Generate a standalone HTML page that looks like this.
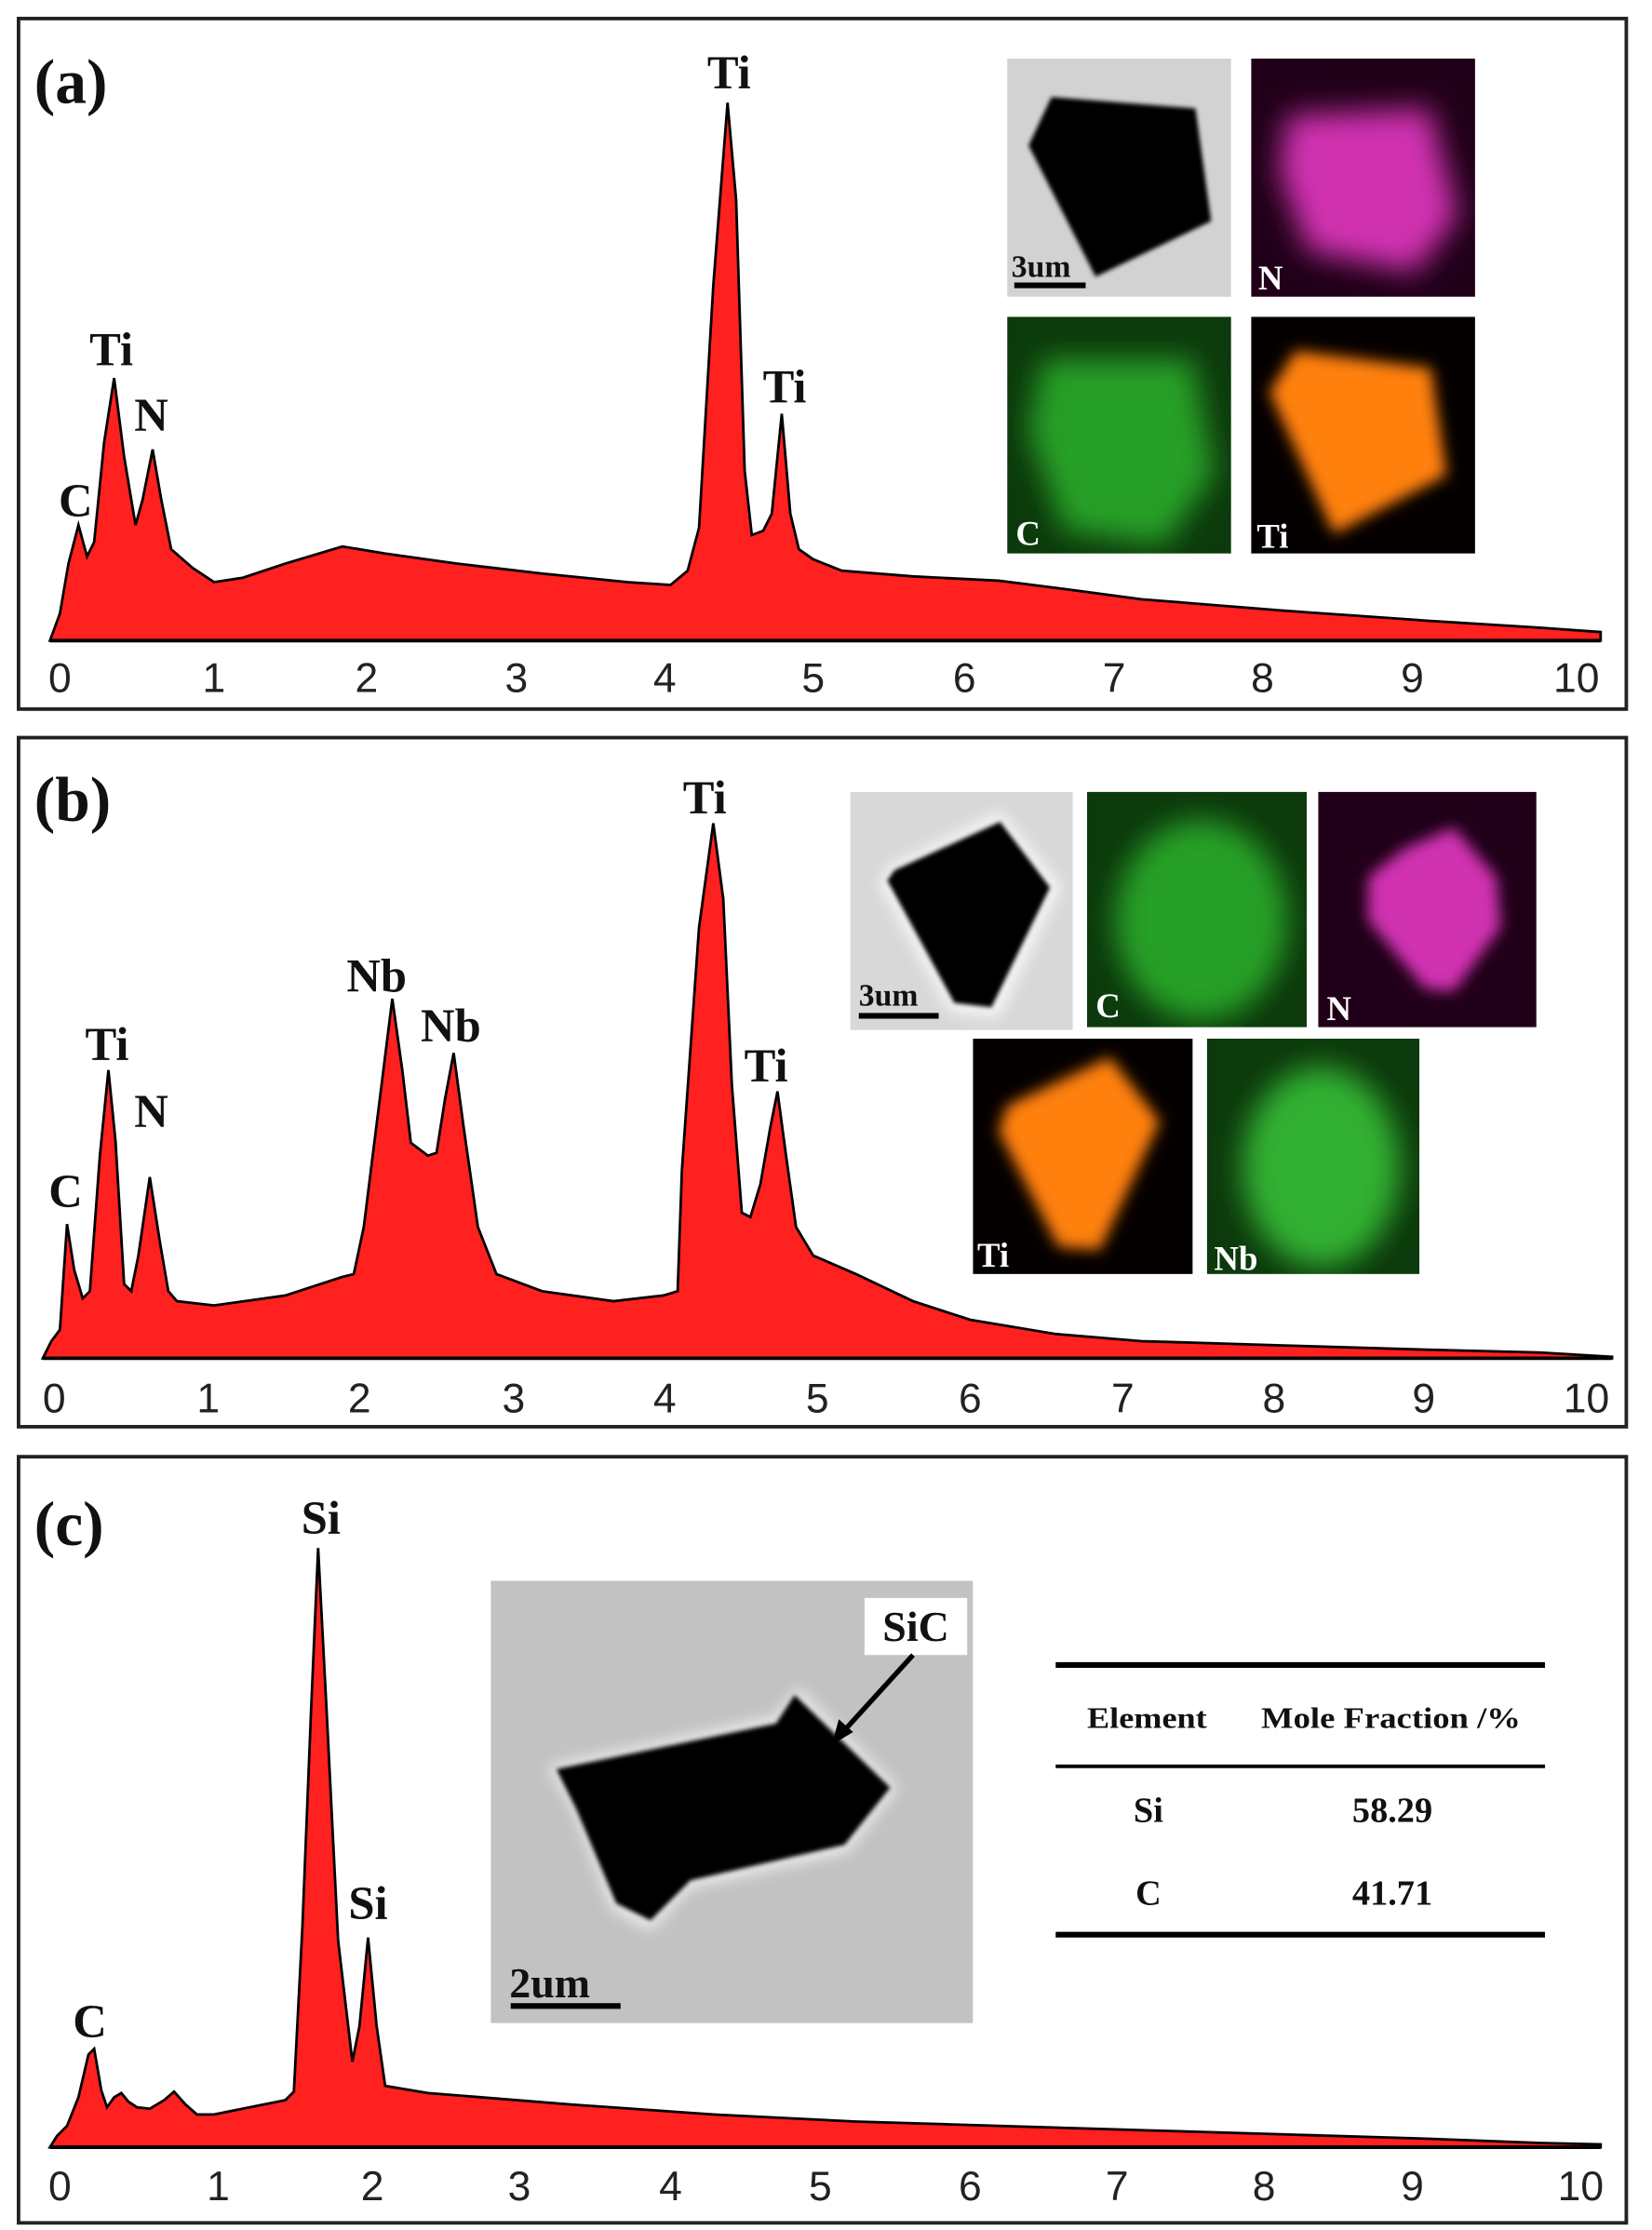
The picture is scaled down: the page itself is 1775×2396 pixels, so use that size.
<!DOCTYPE html>
<html><head><meta charset="utf-8"><style>
html,body{margin:0;padding:0;background:#fff;}
svg{display:block;}
.lb{font-family:"Liberation Serif",serif;font-weight:bold;fill:#111;}
.tk{font-family:"Liberation Sans","DejaVu Sans",sans-serif;fill:#222;font-size:29px;text-anchor:middle;}
.ml{font-family:"Liberation Serif",serif;font-weight:bold;fill:#fff;}
.tb{font-family:"Liberation Serif",serif;font-weight:bold;fill:#111;text-anchor:middle;}
</style></head><body>
<svg width="1775" height="2396" viewBox="0 0 1158 1563" preserveAspectRatio="none" xmlns="http://www.w3.org/2000/svg">
<defs>
<filter id="b3" x="-20%" y="-20%" width="140%" height="140%"><feGaussianBlur stdDeviation="5"/></filter>
<filter id="b1"><feGaussianBlur stdDeviation="1.5"/></filter>
<filter id="b8" x="-30%" y="-30%" width="160%" height="160%"><feGaussianBlur stdDeviation="10"/></filter>
</defs>
<rect width="1158" height="1563" fill="#fff"/>

<!-- Panel a -->
<rect x="13" y="13" width="1127" height="484" fill="#fff" stroke="#222" stroke-width="2.5"/>
<path d="M35,449 L42,430 L48,395 L55,368 L61,390 L66,380 L73,310 L80,265 L87,320 L95,368 L100,350 L107,315 L113,350 L120,385 L135,398 L150,408 L170,405 L200,395 L240,383 L270,388 L320,395 L380,402 L440,408 L470,410 L482,400 L490,370 L500,200 L510,72 L516,140 L522,330 L527,375 L535,372 L541,360 L548,290 L554,360 L560,385 L570,392 L590,400 L640,404 L700,407 L740,412 L800,420 L900,428 L1000,435 L1080,440 L1122,443 L1122,449 Z" fill="#ff2020" stroke="#000" stroke-width="1.8"/>
<line x1="35" y1="449" x2="1122" y2="449" stroke="#000" stroke-width="2.5"/>
<g class="tk"><text x="42" y="485">0</text><text x="150" y="485">1</text><text x="257" y="485">2</text><text x="362" y="485">3</text><text x="466" y="485">4</text><text x="570" y="485">5</text><text x="676" y="485">6</text><text x="781" y="485">7</text><text x="885" y="485">8</text><text x="990" y="485">9</text><text x="1105" y="485">10</text></g>
<text class="lb" x="24" y="72" font-size="44">(a)</text>
<g class="lb" font-size="33" text-anchor="middle"><text x="511" y="62">Ti</text><text x="78" y="256">Ti</text><text x="106" y="302">N</text><text x="53" y="362">C</text><text x="550" y="282">Ti</text></g>
<!-- insets a -->
<svg x="706" y="41" width="157" height="167" viewBox="0 0 157 167"><rect width="157" height="167" fill="#d2d2d2"/><polygon points="31,27 132,35 143,114 62,153 15,61" fill="#000" filter="url(#b1)"/><text class="lb" x="3" y="153" font-size="22" fill="#000">3um</text><rect x="5" y="157" width="50" height="4" fill="#000"/></svg>
<svg x="877" y="41" width="157" height="167" viewBox="0 0 157 167"><rect width="157" height="167" fill="#200018"/><polygon points="25,40 125,35 145,110 115,150 40,135 20,80" fill="#d030b0" filter="url(#b8)"/><text class="ml" x="5" y="162" font-size="24">N</text></svg>
<svg x="706" y="222" width="157" height="166" viewBox="0 0 157 166"><rect width="157" height="166" fill="#0c3a0c"/><polygon points="25,30 130,30 145,110 110,160 40,150 15,80" fill="#28a028" filter="url(#b8)"/><text class="ml" x="6" y="160" font-size="24">C</text></svg>
<svg x="877" y="222" width="157" height="166" viewBox="0 0 157 166"><rect width="157" height="166" fill="#050000"/><polygon points="31,24 126,36 137,111 58,152 13,53" fill="#ff8010" filter="url(#b3)"/><text class="ml" x="4" y="162" font-size="24">Ti</text></svg>

<!-- Panel b -->
<rect x="13" y="517" width="1127" height="483" fill="#fff" stroke="#222" stroke-width="2.5"/>
<path d="M30,952 L36,940 L42,932 L47,858 L52,890 L58,910 L63,905 L70,810 L76,750 L81,800 L87,900 L92,905 L97,880 L105,825 L112,870 L118,905 L124,912 L150,915 L200,908 L240,895 L248,893 L255,860 L265,780 L275,700 L282,750 L288,801 L300,810 L306,808 L312,770 L318,738 L325,790 L335,860 L348,893 L380,905 L430,912 L465,908 L475,905 L478,820 L490,650 L500,577 L507,630 L513,760 L520,850 L526,853 L533,830 L540,790 L545,765 L551,810 L558,860 L570,880 L600,893 L640,912 L680,925 L740,935 L800,940 L900,943 L1000,946 L1080,948 L1130,951 L1130,952 Z" fill="#ff2020" stroke="#000" stroke-width="1.8"/>
<line x1="30" y1="952" x2="1130" y2="952" stroke="#000" stroke-width="2.5"/>
<g class="tk"><text x="38" y="990">0</text><text x="146" y="990">1</text><text x="252" y="990">2</text><text x="360" y="990">3</text><text x="466" y="990">4</text><text x="573" y="990">5</text><text x="680" y="990">6</text><text x="787" y="990">7</text><text x="893" y="990">8</text><text x="998" y="990">9</text><text x="1112" y="990">10</text></g>
<text class="lb" x="24" y="575" font-size="44">(b)</text>
<g class="lb" font-size="33" text-anchor="middle"><text x="494" y="570">Ti</text><text x="75" y="743">Ti</text><text x="106" y="790">N</text><text x="46" y="846">C</text><text x="264" y="695">Nb</text><text x="316" y="730">Nb</text><text x="537" y="758">Ti</text></g>
<!-- insets b -->
<svg x="596" y="555" width="156" height="167" viewBox="0 0 156 167"><rect width="156" height="167" fill="#d8d8d8"/><polygon points="105,14 148,66 104,158 70,154 20,64 28,52" fill="#f6f6f6" filter="url(#b3)"/><polygon points="105,21 140,67 99,151 73,148 26,62 31,55" fill="#000" filter="url(#b1)"/><text class="lb" x="6" y="150" font-size="22" fill="#000">3um</text><rect x="6" y="155" width="56" height="4" fill="#000"/></svg>
<svg x="762" y="555" width="154" height="165" viewBox="0 0 154 165"><rect width="154" height="165" fill="#0c3a0c"/><ellipse cx="80" cy="90" rx="60" ry="70" fill="#28a028" filter="url(#b8)"/><text class="ml" x="6" y="158" font-size="24">C</text></svg>
<svg x="924" y="555" width="153" height="165" viewBox="0 0 153 165"><rect width="153" height="165" fill="#200018"/><polygon points="95,25 125,60 128,95 95,140 75,138 35,90 35,60 60,40" fill="#d030b0" filter="url(#b3)"/><text class="ml" x="6" y="160" font-size="24">N</text></svg>
<svg x="682" y="728" width="154" height="165" viewBox="0 0 154 165"><rect width="154" height="165" fill="#050000"/><polygon points="96,13 131,58 89,148 60,146 18,65 24,47" fill="#ff8010" filter="url(#b3)"/><text class="ml" x="3" y="160" font-size="24">Ti</text></svg>
<svg x="846" y="728" width="149" height="165" viewBox="0 0 149 165"><rect width="149" height="165" fill="#0c3a0c"/><ellipse cx="80" cy="90" rx="55" ry="70" fill="#30b030" filter="url(#b8)"/><text class="ml" x="5" y="162" font-size="24">Nb</text></svg>

<!-- Panel c -->
<rect x="13" y="1021" width="1127" height="537" fill="#fff" stroke="#222" stroke-width="2.5"/>
<path d="M35,1505 L40,1497 L47,1490 L55,1470 L62,1440 L66,1436 L71,1465 L75,1477 L80,1470 L85,1467 L90,1473 L96,1477 L105,1478 L115,1472 L122,1466 L130,1475 L138,1482 L150,1482 L180,1476 L200,1472 L206,1466 L212,1350 L218,1200 L223,1085 L229,1200 L237,1360 L247,1445 L252,1420 L258,1358 L264,1420 L270,1462 L300,1467 L400,1475 L500,1482 L600,1487 L700,1490 L800,1493 L900,1496 L1000,1499 L1080,1502 L1122,1503 L1122,1505 Z" fill="#ff2020" stroke="#000" stroke-width="1.8"/>
<line x1="35" y1="1505" x2="1122" y2="1505" stroke="#000" stroke-width="2.5"/>
<g class="tk"><text x="42" y="1542">0</text><text x="153" y="1542">1</text><text x="261" y="1542">2</text><text x="364" y="1542">3</text><text x="470" y="1542">4</text><text x="575" y="1542">5</text><text x="680" y="1542">6</text><text x="783" y="1542">7</text><text x="886" y="1542">8</text><text x="990" y="1542">9</text><text x="1108" y="1542">10</text></g>
<text class="lb" x="24" y="1083" font-size="44">(c)</text>
<g class="lb" font-size="33" text-anchor="middle"><text x="225" y="1075">Si</text><text x="258" y="1345">Si</text><text x="63" y="1428">C</text></g>
<!-- SEM c -->
<svg x="344" y="1108" width="338" height="310" viewBox="0 0 338 310"><rect width="338" height="310" fill="#c2c2c2"/><polygon points="40,130 200,95 215,75 285,145 250,190 140,215 112,245 85,230 58,160" fill="#ececec" filter="url(#b3)"/><polygon points="46,132 200,100 213,80 280,145 248,185 140,210 112,238 88,226 60,160" fill="#000" filter="url(#b1)"/><rect x="262" y="12" width="72" height="40" fill="#fff"/><text class="lb" x="298" y="42" font-size="30" text-anchor="middle" fill="#000">SiC</text><line x1="296" y1="52" x2="245" y2="108" stroke="#000" stroke-width="3.5"/><polygon points="239,115 244,97 254,106" fill="#000"/><text class="lb" x="13" y="292" font-size="30" fill="#000">2um</text><rect x="14" y="296" width="77" height="4" fill="#000"/></svg>
<!-- table -->
<line x1="740" y1="1167" x2="1083" y2="1167" stroke="#000" stroke-width="4"/>
<line x1="740" y1="1238" x2="1083" y2="1238" stroke="#000" stroke-width="2.5"/>
<line x1="740" y1="1356" x2="1083" y2="1356" stroke="#000" stroke-width="4"/>
<text class="tb" x="804" y="1211" font-size="21" textLength="84" lengthAdjust="spacingAndGlyphs">Element</text>
<text class="tb" x="975" y="1211" font-size="21" textLength="182" lengthAdjust="spacingAndGlyphs">Mole Fraction /%</text>
<text class="tb" x="805" y="1277" font-size="25">Si</text><text class="tb" x="976" y="1277" font-size="25">58.29</text>
<text class="tb" x="805" y="1335" font-size="25">C</text><text class="tb" x="976" y="1335" font-size="25">41.71</text>
</svg>
</body></html>
